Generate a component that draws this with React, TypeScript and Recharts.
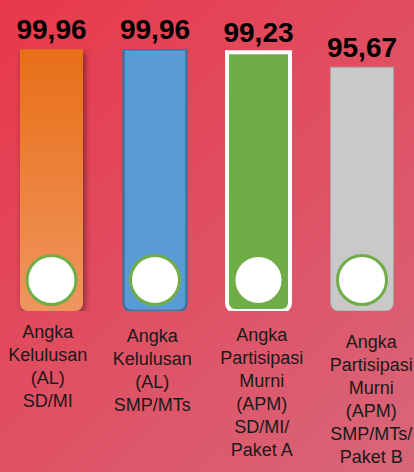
import { BarChart, Bar, XAxis, YAxis, LabelList, Rectangle } from "recharts";

const categories = [
  "Angka\nKelulusan\n(AL)\nSD/MI",
  "Angka\nKelulusan\n(AL)\nSMP/MTs",
  "Angka\nPartisipasi\nMurni\n(APM)\nSD/MI/\nPaket A",
  "Angka\nPartisipasi\nMurni\n(APM)\nSMP/MTs/\nPaket B",
];
const values = [99.96, 99.96, 99.23, 95.67];

const data = categories.map((name, i) => ({ name, value: values[i] }));

// per-bar look, in category order
const barStyles = [
  { fill: "url(#orangeFill)", stroke: "none", strokeWidth: 0, shadow: true },
  { fill: "#5b9bd5", stroke: "#41719c", strokeWidth: 2.5, shadow: false },
  { fill: "#70ad47", stroke: "#ffffff", strokeWidth: 4, shadow: false },
  { fill: "#c9c9c9", stroke: "#a6a6a6", strokeWidth: 1, shadow: false },
];
const labelShift = [
  { dx: -4, dy: -3 },
  { dx: -3, dy: 1 },
  { dx: 3, dy: 0 },
  { dx: 9, dy: 7 },
];

const fmt = (v: number) => v.toFixed(2).replace(".", ",");

function BarShape(props: any) {
  const { x, y, width, height, index } = props;
  const s = barStyles[index];
  return (
    <g>
      <defs>
        <linearGradient id="orangeFill" x1="0" y1="0" x2="0" y2="1">
          <stop offset="0%" stopColor="#e86f17" />
          <stop offset="100%" stopColor="#f0955f" />
        </linearGradient>
        <filter id="barShadow" x="-20%" y="-10%" width="150%" height="130%">
          <feDropShadow dx="2" dy="3" stdDeviation="3" floodColor="#000" floodOpacity="0.45" />
        </filter>
      </defs>
      <Rectangle
        x={x}
        y={y}
        width={width}
        height={height}
        radius={[0, 0, 8, 8]}
        fill={s.fill}
        stroke={s.stroke}
        strokeWidth={s.strokeWidth}
        filter={s.shadow ? "url(#barShadow)" : undefined}
      />
      <circle
        cx={x + width / 2}
        cy={y + height - 31}
        r={24.5}
        fill="#ffffff"
        stroke="#70ad47"
        strokeWidth={3}
      />
    </g>
  );
}

function ValueLabel(props: any) {
  const { x, y, width, value } = props;
  return (
    <text
      x={x + width / 2}
      y={y - 10}
      textAnchor="middle"
      fontSize={28}
      fontWeight="bold"
      fill="#000"
      fontFamily="'Liberation Sans', Arial, sans-serif"
    >
      {fmt(value)}
    </text>
  );
}

function CategoryTick(props: any) {
  const { x, y, payload, index } = props;
  const lines = String(payload.value).split("\n");
  const sh = labelShift[index] || { dx: 0, dy: 0 };
  return (
    <text
      x={x + sh.dx}
      y={y + 22 + sh.dy}
      textAnchor="middle"
      fontSize={18}
      fill="#1a1a1a"
      fontFamily="'Liberation Sans', Arial, sans-serif"
    >
      {lines.map((l, i) => (
        <tspan key={i} x={x + sh.dx} dy={i === 0 ? 0 : 23}>
          {l}
        </tspan>
      ))}
    </text>
  );
}

export default function App() {
  return (
    <div
      style={{
        position: "fixed",
        left: 0,
        top: 0,
        width: 414,
        height: 472,
        background: "linear-gradient(135deg, #e8384a 0%, #d8667a 100%)",
        overflow: "hidden",
      }}
    >
      <BarChart
        width={414}
        height={472}
        data={data}
        margin={{ top: 49, right: 0, left: 0, bottom: 0 }}
      >
        <XAxis
          dataKey="name"
          height={161}
          axisLine={false}
          tickLine={false}
          interval={0}
          tick={(p: any) => <CategoryTick {...p} />}
        />
        <YAxis hide domain={[37.5, 100]} allowDataOverflow />
        <Bar dataKey="value" barSize={63} isAnimationActive={false} shape={(p: any) => <BarShape {...p} />}>
          <LabelList dataKey="value" content={(p: any) => <ValueLabel {...p} />} />
        </Bar>
      </BarChart>
    </div>
  );
}
